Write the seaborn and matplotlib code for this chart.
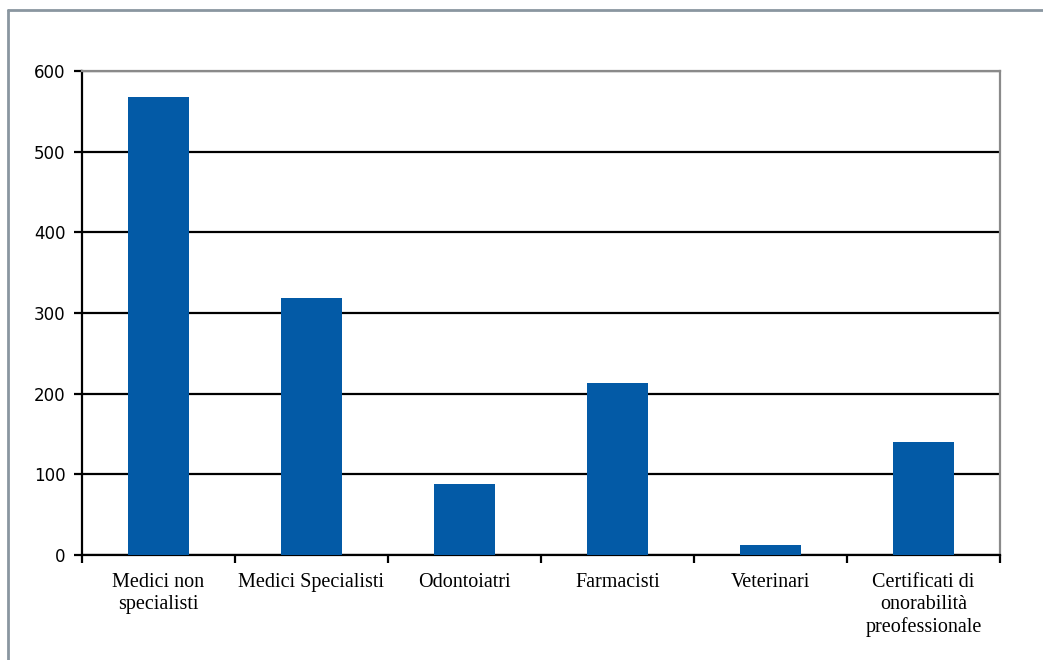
import matplotlib
matplotlib.use("Agg")
import matplotlib.pyplot as plt
from matplotlib.lines import Line2D
import seaborn as sns
import numpy as np

categories = ["Medici non\nspecialisti", "Medici Specialisti", "Odontoiatri",
              "Farmacisti", "Veterinari", "Certificati di\nonorabilità\npreofessionale"]
values = [568, 319, 88, 213, 12, 140]
yticks = [0, 100, 200, 300, 400, 500, 600]

sns.set_theme(style="white")
plt.rcParams['font.family'] = ['DejaVu Sans']

fig = plt.figure(figsize=(10.43, 6.6), dpi=100)
ax = fig.add_axes([82/1043, 1-555/660, (1000-82)/1043, (555-71)/660])

sns.barplot(x=categories, y=values, color="#035AA6", saturation=1, width=0.395,
            ax=ax, zorder=3, linewidth=0)

ax.set_ylim(0, 600)
ax.set_xlim(-0.5, len(categories)-0.5)
ax.set_yticks(yticks)
ax.set_yticklabels([str(t) for t in yticks], fontsize=12, color="black")
ax.yaxis.grid(True, color="black", lw=1.6, zorder=1)
ax.set_axisbelow(True)

ax.set_xticks(np.arange(len(categories)))
ax.set_xticklabels(categories, fontsize=14.5, family="Liberation Serif", color="black", linespacing=1.2)
ax.set_xticks(np.arange(len(categories)+1)-0.5, minor=True)
ax.tick_params(axis="x", which="major", length=0, pad=13)
ax.tick_params(axis="x", which="minor", length=6, width=1.6, color="black", direction="out", bottom=True)
ax.tick_params(axis="y", which="major", length=6, width=1.6, color="black", direction="out", left=True, pad=6)

ax.set_xlabel("")
ax.set_ylabel("")
for s in ["left", "bottom"]:
    ax.spines[s].set_color("black")
    ax.spines[s].set_linewidth(1.6)
for s in ["top", "right"]:
    ax.spines[s].set_color("#8a8a8a")
    ax.spines[s].set_linewidth(1.6)
    ax.spines[s].set_visible(True)

# figure border (left and top)
fig.add_artist(Line2D([8/1043, 8/1043], [0, 1-10/660], transform=fig.transFigure, color="#8a96a0", lw=2))
fig.add_artist(Line2D([8/1043, 1], [1-10/660, 1-10/660], transform=fig.transFigure, color="#8a96a0", lw=2))

fig.savefig("out.png", dpi=100)
